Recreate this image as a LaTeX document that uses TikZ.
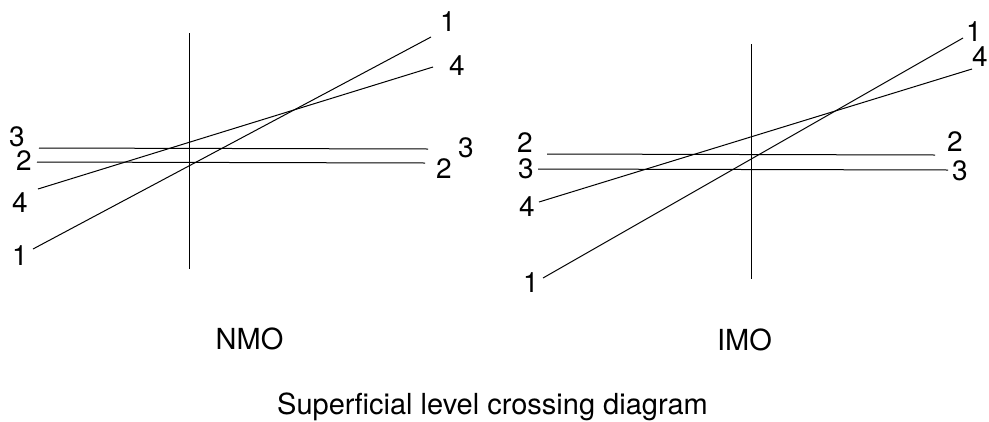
\documentclass[tikz,border=0pt]{standalone}
\usepackage{fontspec}
\setmainfont{TeX Gyre Heros}
\begin{document}
\begin{tikzpicture}[x=1pt,y=-1pt,
  lvl/.style={line width=1pt},
  lab/.style={inner sep=0pt,font=\fontsize{28}{33}\selectfont},
  captext/.style={inner sep=0pt,anchor=base,font=\fontsize{29}{35}\selectfont}]
\useasboundingbox (0,0) rectangle (989,421);
% ---------- NMO panel ----------
\coordinate (nAt) at (189,33);  \coordinate (nAb) at (189,269);
\coordinate (n1l) at (33,249);  \coordinate (n1r) at (431,37);
\coordinate (n4l) at (38,189);  \coordinate (n4r) at (433,67);
\coordinate (n3l) at (39,148);  \coordinate (n3r) at (428,149);
\coordinate (n2l) at (37,162);  \coordinate (n2r) at (425,163);
\draw[lvl] (nAt) -- (nAb);
\draw[lvl] (n1l) -- (n1r);
\draw[lvl] (n4l) -- (n4r);
\draw[lvl] (n3l) -- (n3r);
\draw[lvl] (n2l) -- (n2r);
\node[lab] (nL3) at (17,137) {3};
\node[lab] (nL2) at (24,161) {2};
\node[lab] (nL4) at (20,203) {4};
\node[lab] (nL1) at (20,256) {1};
\node[lab] (nR1) at (448,22) {1};
\node[lab] (nR4) at (457,66) {4};
\node[lab] (nR3) at (466,148) {3};
\node[lab] (nR2) at (444,169) {2};
\node[captext] (nmo) at (249.5,349) {NMO};
% ---------- IMO panel ----------
\coordinate (iAt) at (751,44);  \coordinate (iAb) at (751,279);
\coordinate (i1l) at (543,278); \coordinate (i1r) at (963,38);
\coordinate (i4l) at (539,202); \coordinate (i4r) at (972,69);
\coordinate (i2l) at (547,154); \coordinate (i2r) at (935,155);
\coordinate (i3l) at (538,169); \coordinate (i3r) at (948,170);
\draw[lvl] (iAt) -- (iAb);
\draw[lvl] (i1l) -- (i1r);
\draw[lvl] (i4l) -- (i4r);
\draw[lvl] (i2l) -- (i2r);
\draw[lvl] (i3l) -- (i3r);
\node[lab] (iL2) at (525,143) {2};
\node[lab] (iL3) at (526,169) {3};
\node[lab] (iL4) at (527,207) {4};
\node[lab] (iL1) at (531,283) {1};
\node[lab] (iR1) at (974,32) {1};
\node[lab] (iR4) at (980,57) {4};
\node[lab] (iR2) at (955,142) {2};
\node[lab] (iR3) at (960,171) {3};
\node[captext] (imo) at (744.5,350) {IMO};
% ---------- caption ----------
\node[captext] (title) at (492.5,414.5) {Superficial level crossing diagram};
\end{tikzpicture}
\end{document}
